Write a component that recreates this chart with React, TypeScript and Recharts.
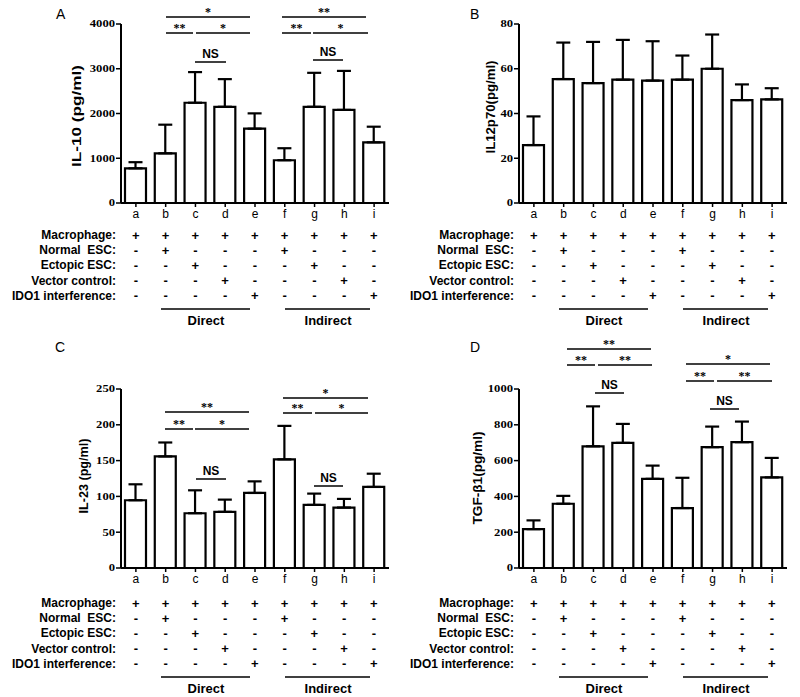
import React from "react";
import { Bar, BarChart, ErrorBar, XAxis, YAxis } from "recharts";

const SANS = "'Liberation Sans', Arial, sans-serif";
const SERIF = "'Liberation Serif', 'Times New Roman', serif";

const groups = ["a", "b", "c", "d", "e", "f", "g", "h", "i"];

// mean and SD (upper whisker only)
const il10Mean = [775, 1110, 2240, 2150, 1660, 955, 2150, 2080, 1355];
const il10Sd = [137, 640, 685, 618, 343, 269, 759, 872, 350];
const il12Mean = [25.9, 55.4, 53.6, 55.1, 54.7, 55.1, 60.0, 46.0, 46.3];
const il12Sd = [12.8, 16.3, 18.4, 17.8, 17.6, 10.8, 15.3, 7.0, 5.0];
const il23Mean = [94.6, 155.8, 76.5, 78.4, 104.8, 151.7, 88.1, 84.4, 113.2];
const il23Sd = [22.3, 19.5, 32.0, 17.1, 16.2, 46.8, 15.8, 12.1, 18.5];
const tgfMean = [217, 359, 680, 699, 498, 335, 675, 703, 506];
const tgfSd = [49, 44, 223, 106, 74, 169, 115, 115, 109];

const il10Ticks = [0, 1000, 2000, 3000, 4000];
const il12Ticks = [0, 20, 40, 60, 80];
const il23Ticks = [0, 50, 100, 150, 200, 250];
const tgfTicks = [0, 200, 400, 600, 800, 1000];

const rowLabels = ["Macrophage:", "Normal  ESC:", "Ectopic ESC:", "Vector control:", "IDO1 interference:"];
const rowSigns = ["+++++++++", "-+---+---", "--+---+--", "---+---+-", "----+---+"];

// significance brackets: [x1, x2, y, label], page pixels
const bracketsA: [number, number, number, string][] = [
  [166, 250, 17, "*"], [166, 193, 33, "**"], [196, 250, 33, "*"], [195, 226, 62, "NS"],
  [282, 366, 17, "**"], [282, 311, 33, "**"], [313, 368, 33, "*"], [313, 343, 60, "NS"],
];
const bracketsC: [number, number, number, string][] = [
  [165, 249, 412, "**"], [165, 193, 429, "**"], [195, 249, 429, "*"], [196, 226, 479, "NS"],
  [283, 368, 398, "*"], [283, 312, 413, "**"], [315, 368, 413, "*"], [314, 343, 486, "NS"],
];
const bracketsD: [number, number, number, string][] = [
  [567, 651, 349, "**"], [567, 595, 365, "**"], [598, 652, 365, "**"], [595, 624, 393, "NS"],
  [686, 770, 364, "*"], [686, 714, 381, "**"], [717, 772, 381, "**"], [710, 739, 409, "NS"],
];

const PLOT_LEFT = 121;
const BAND = 29.75;

function YTick(props: any) {
  const { x, y, payload } = props;
  const s = String(payload.value);
  return (
    <text
      x={x}
      y={y}
      dy={3.3}
      textAnchor="end"
      fontFamily={SERIF}
      fontWeight="bold"
      fontSize={9.5}
      fill="#000"
      textLength={s.length * 6.3}
      lengthAdjust="spacingAndGlyphs"
    >
      {s}
    </text>
  );
}

function Panel({ x, y, mean, sd, ticks }: { x: number; y: number; mean: number[]; sd: number[]; ticks: number[] }) {
  const data = groups.map((g, i) => ({ g, v: mean[i], e: [0, sd[i]] }));
  const max = ticks[ticks.length - 1];
  return (
    <div style={{ position: "absolute", left: x, top: y }}>
      <BarChart width={400} height={225} data={data} margin={{ top: 24, right: 11, bottom: 0, left: 0 }} barSize={21}>
        <XAxis
          dataKey="g"
          height={22}
          interval={0}
          tickSize={4}
          tickMargin={2}
          axisLine={{ stroke: "#000", strokeWidth: 2 }}
          tickLine={{ stroke: "#000", strokeWidth: 1.5 }}
          tick={{ fontFamily: SANS, fontSize: 12, fill: "#000" }}
        />
        <YAxis
          width={PLOT_LEFT}
          domain={[0, max]}
          ticks={ticks}
          interval={0}
          tickSize={5}
          tickMargin={1}
          axisLine={{ stroke: "#000", strokeWidth: 2 }}
          tickLine={{ stroke: "#000", strokeWidth: 1.5 }}
          tick={<YTick />}
        />
        <Bar dataKey="v" fill="#fff" stroke="#000" strokeWidth={2.2} isAnimationActive={false}>
          <ErrorBar dataKey="e" direction="y" width={7} stroke="#000" strokeWidth={2.2} isAnimationActive={false} />
        </Bar>
      </BarChart>
    </div>
  );
}

function Table({ cx, y0 }: { cx: number; y0: number }) {
  const col = (j: number) => cx + PLOT_LEFT + BAND * (j + 0.5);
  return (
    <g fontFamily={SANS} fontWeight="bold" fill="#000">
      {rowLabels.map((lab, i) => (
        <g key={lab}>
          <text x={cx + 116} y={y0 + i * 15.2 + 4} fontSize={12} textAnchor="end" style={{ whiteSpace: "pre" }}>
            {lab}
          </text>
          {rowSigns[i].split("").map((s, j) => (
            <text key={j} x={col(j)} y={y0 + i * 15.2 + 4.5} fontSize={13} textAnchor="middle">
              {s}
            </text>
          ))}
        </g>
      ))}
      <line x1={cx + 161} x2={cx + 250} y1={y0 + 74} y2={y0 + 74} stroke="#000" strokeWidth={1.5} />
      <line x1={cx + 285} x2={cx + 370} y1={y0 + 74} y2={y0 + 74} stroke="#000" strokeWidth={1.5} />
      <text x={cx + 206} y={y0 + 90} fontSize={13} textAnchor="middle">Direct</text>
      <text x={cx + 328} y={y0 + 90} fontSize={13} textAnchor="middle">Indirect</text>
    </g>
  );
}

function Brackets({ list }: { list: [number, number, number, string][] }) {
  return (
    <g fill="#000">
      {list.map(([x1, x2, y, lab], i) => (
        <g key={i}>
          <line x1={x1} x2={x2} y1={y} y2={y} stroke="#000" strokeWidth={1.5} />
          {lab === "NS" ? (
            <text x={(x1 + x2) / 2} y={y - 4} fontFamily={SANS} fontWeight="bold" fontSize={12} textAnchor="middle">
              NS
            </text>
          ) : (
            <text x={(x1 + x2) / 2} y={y - 1} fontFamily={SERIF} fontWeight="bold" fontSize={12} textAnchor="middle">
              {lab}
            </text>
          )}
        </g>
      ))}
    </g>
  );
}

function YLabel({ x, y, len, size, text }: { x: number; y: number; len: number; size: number; text: string }) {
  return (
    <text
      transform={`translate(${x},${y}) rotate(-90)`}
      textAnchor="middle"
      dominantBaseline="central"
      fontFamily={SANS}
      fontWeight="bold"
      fontSize={size}
      fill="#000"
      textLength={len}
      lengthAdjust="spacingAndGlyphs"
    >
      {text}
    </text>
  );
}

export default function App() {
  return (
    <div style={{ position: "relative", width: 800, height: 697, background: "#fff", overflow: "hidden" }}>
      <style>{"body{margin:0}"}</style>
      <Panel x={0} y={0} mean={il10Mean} sd={il10Sd} ticks={il10Ticks} />
      <Panel x={398} y={0} mean={il12Mean} sd={il12Sd} ticks={il12Ticks} />
      <Panel x={0} y={365} mean={il23Mean} sd={il23Sd} ticks={il23Ticks} />
      <Panel x={398} y={365} mean={tgfMean} sd={tgfSd} ticks={tgfTicks} />
      <svg width={800} height={697} style={{ position: "absolute", left: 0, top: 0, pointerEvents: "none" }}>
        <g fontFamily={SANS} fontSize={14} fill="#000">
          <text x={56} y={19}>A</text>
          <text x={470} y={19}>B</text>
          <text x={55} y={352}>C</text>
          <text x={470} y={352}>D</text>
        </g>
        <YLabel x={77} y={116} len={102} size={12} text="IL-10 (pg/ml)" />
        <YLabel x={490} y={107} len={93} size={13} text="IL12p70(pg/ml)" />
        <YLabel x={84} y={476} len={75} size={12.5} text="IL-23 (pg/ml)" />
        <YLabel x={478} y={478} len={93} size={12} text="TGF-β1(pg/ml)" />
        <Table cx={0} y0={235} />
        <Table cx={398} y0={235} />
        <Table cx={0} y0={603} />
        <Table cx={398} y0={603} />
        <Brackets list={bracketsA} />
        <Brackets list={bracketsC} />
        <Brackets list={bracketsD} />
      </svg>
    </div>
  );
}
